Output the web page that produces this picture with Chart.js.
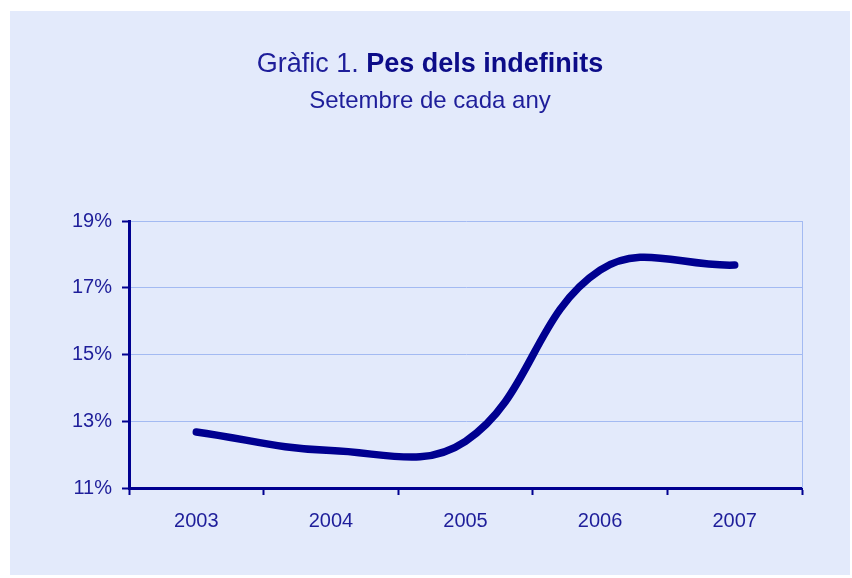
<!DOCTYPE html>
<html>
<head>
<meta charset="utf-8">
<script src="https://cdn.jsdelivr.net/npm/chart.js@4.4.0/dist/chart.umd.min.js"></script>
<style>
  html, body { margin: 0; padding: 0; background: #fff; }
  #page { position: relative; width: 852px; height: 578px; background: #fff; overflow: hidden; }
  #panel { position: absolute; left: 10px; top: 11px; width: 840px; height: 564px; background: #E3EAFB; }
  #title { position: absolute; left: 0; top: 37px; width: 100%; text-align: center;
           font-family: "Liberation Sans", Arial, sans-serif; font-size: 27px; color: #1e1e9a; }
  #title b { font-weight: bold; color: #0c0c88; }
  #subtitle { position: absolute; left: 0; top: 75px; width: 100%; text-align: center;
              font-family: "Liberation Sans", Arial, sans-serif; font-size: 24px; color: #1e1e9a; }
  #chart { position: absolute; left: 0; top: 0; }
</style>
</head>
<body>
<div id="page">
  <div id="panel">
    <canvas id="chart" width="840" height="564"></canvas>
    <div id="title">Gràfic 1. <b>Pes dels indefinits</b></div>
    <div id="subtitle">Setembre de cada any</div>
  </div>
</div>
<script>
// data
var years = ['2003', '2004', '2005', '2006', '2007'];
var pesIndefinits = [12.68, 12.12, 12.4, 17.53, 17.68];
var yTicks = [11, 13, 15, 17, 19];

var navy = '#000090';
var textColor = '#1e1e9a';
var gridColor = '#A3BAF2';

// right edge of the plot area is a light blue line
var frameRight = {
    id: 'frameRight',
    afterDraw: function(chart) {
        var a = chart.chartArea;
        var ctx = chart.ctx;
        ctx.save();
        ctx.strokeStyle = gridColor;
        ctx.lineWidth = 1;
        ctx.beginPath();
        ctx.moveTo(Math.round(a.right) + 0.5, a.top);
        ctx.lineTo(Math.round(a.right) + 0.5, a.bottom);
        ctx.stroke();
        ctx.restore();
    }
};

var ctx = document.getElementById('chart');
var myLineChart = new Chart(ctx, {
    type: 'line',
    data: {
        labels: years,
        datasets: [{
            label: 'Pes dels indefinits',
            data: pesIndefinits,
            borderColor: navy,
            backgroundColor: navy,
            borderWidth: 7.5,
            borderCapStyle: 'round',
            borderJoinStyle: 'round',
            fill: false,
            tension: 0.4,
            pointRadius: 0
        }]
    },
    options: {
        responsive: false,
        animation: false,
        layout: { padding: { top: 210, right: 48, left: 0, bottom: 0 } },
        plugins: {
            legend: { display: false },
            tooltip: { enabled: false }
        },
        scales: {
            x: {
                offset: true,
                afterFit: function(scale) { scale.height = 87; },
                grid: {
                    offset: true,
                    drawOnChartArea: false,
                    drawTicks: true,
                    tickLength: 7,
                    tickWidth: 2,
                    tickColor: navy
                },
                border: { color: navy, width: 3 },
                ticks: {
                    color: textColor,
                    padding: 14,
                    font: { family: '"Liberation Sans", Arial, sans-serif', size: 20 }
                }
            },
            y: {
                min: 11,
                max: 19,
                afterFit: function(scale) { scale.width = 119; },
                afterBuildTicks: function(scale) {
                    scale.ticks = yTicks.map(function(v) { return { value: v }; });
                },
                grid: {
                    color: gridColor,
                    lineWidth: 1,
                    tickLength: 7,
                    tickWidth: 2,
                    tickColor: navy
                },
                border: { color: navy, width: 3 },
                ticks: {
                    color: textColor,
                    padding: 10,
                    font: { family: '"Liberation Sans", Arial, sans-serif', size: 20 },
                    callback: function(v) { return v + '%'; }
                }
            }
        }
    },
    plugins: [frameRight]
});
</script>
</body>
</html>
